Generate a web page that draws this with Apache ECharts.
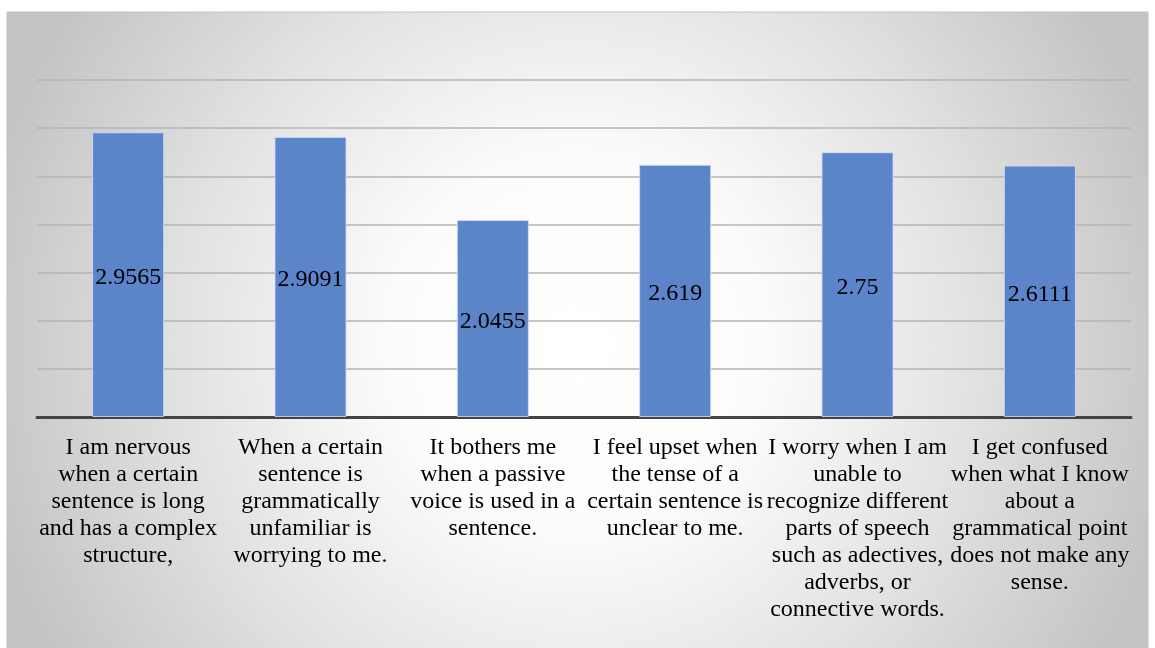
<!DOCTYPE html>
<html>
<head>
<meta charset="utf-8">
<script src="https://cdn.jsdelivr.net/npm/echarts@6/dist/echarts.min.js"></script>
<style>
  html, body { margin: 0; padding: 0; background: #ffffff; }
  #chart { width: 1155px; height: 648px; }
</style>
</head>
<body>
<div id="chart"></div>
<script>
// Survey statements (wrapped as they appear under each bar)
const categories = [
  'I am nervous\nwhen a certain\nsentence is long\nand has a complex\nstructure,',
  'When a certain\nsentence is\ngrammatically\nunfamiliar is\nworrying to me.',
  'It bothers me\nwhen a passive\nvoice is used in a\nsentence.',
  'I feel upset when\nthe tense of a\ncertain sentence is\nunclear to me.',
  'I worry when I am\nunable to\nrecognize different\nparts of speech\nsuch as adectives,\nadverbs, or\nconnective words.',
  'I get confused\nwhen what I know\nabout a\ngrammatical point\ndoes not make any\nsense.'
];

// Mean score for each statement
const meanScores = [2.9565, 2.9091, 2.0455, 2.619, 2.75, 2.6111];

// Value axis range (hidden labels, gridlines every 0.5)
const yMin = 0;
const yMax = 3.5;
const yStep = 0.5;

const serif = '"Liberation Serif", "Times New Roman", serif';

const chart = echarts.init(document.getElementById('chart'), null, { renderer: 'canvas' });

chart.setOption({
  backgroundColor: '#ffffff',
  animation: false,
  graphic: [
    {
      type: 'rect',
      z: -10,
      silent: true,
      shape: { x: 7, y: 12, width: 1141, height: 640 },
      style: {
        fill: {
          type: 'radial',
          x: 0.5,
          y: 0.52,
          r: 0.95,
          colorStops: [
            { offset: 0, color: '#ffffff' },
            { offset: 0.3, color: '#fcfcfc' },
            { offset: 0.65, color: '#e2e2e2' },
            { offset: 1, color: '#c4c4c4' }
          ]
        },
        stroke: '#c2c2c2',
        lineWidth: 1
      }
    }
  ],
  grid: {
    left: 37,
    right: 24,
    top: 80,
    bottom: 231,
    containLabel: false
  },
  xAxis: {
    type: 'category',
    data: categories,
    axisLine: { show: true, lineStyle: { color: '#444444', width: 3 } },
    axisTick: { show: false },
    axisLabel: {
      interval: 0,
      margin: 17,
      color: '#000000',
      fontFamily: serif,
      fontSize: 24,
      lineHeight: 27,
      align: 'center',
      verticalAlign: 'top'
    }
  },
  yAxis: {
    type: 'value',
    min: yMin,
    max: yMax,
    interval: yStep,
    axisLine: { show: false },
    axisTick: { show: false },
    axisLabel: { show: false },
    splitLine: { show: true, lineStyle: { color: '#b5b5b5', width: 1.5 } }
  },
  series: [
    {
      type: 'bar',
      data: meanScores,
      barWidth: 72,
      itemStyle: {
        color: '#5b84c9',
        borderColor: 'rgba(210,222,245,0.8)',
        borderWidth: 1
      },
      label: {
        show: true,
        position: 'inside',
        offset: [0, 3],
        color: '#000000',
        fontFamily: serif,
        fontSize: 24,
        formatter: (p) => String(p.value)
      }
    }
  ]
});
</script>
</body>
</html>
